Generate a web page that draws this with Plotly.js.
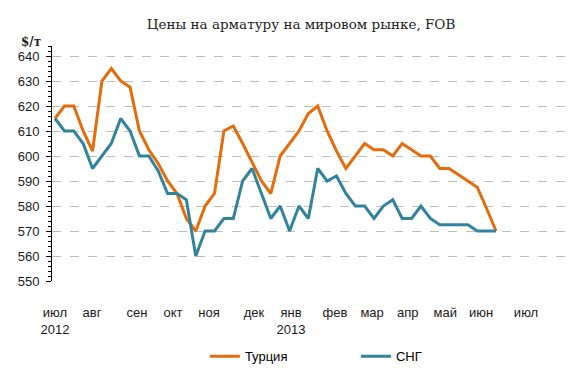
<!DOCTYPE html>
<html>
<head>
<meta charset="utf-8">
<script src="https://cdn.plot.ly/plotly-3.0.1.min.js"></script>
<style>html,body{margin:0;padding:0;background:#fff;}</style>
</head>
<body>
<div id="chart" style="width:579px;height:378px;"></div>
<script>
// Weekly FOB rebar prices, $/t (Jul 2012 – Jun 2013)
const turkey = [615, 620, 620, 610, 602, 630, 635, 630, 627.5, 610,
  602.5, 597, 590, 585, 575, 570, 580, 585, 610, 612,
  605, 597.5, 590, 585, 600, 605, 610, 617, 620, 610,
  602, 595, 600, 605, 602.5, 602.5, 600, 605, 602.5, 600,
  600, 595, 595, 592.5, 590, 587.5, 579, 570];
const cis = [615, 610, 610, 605, 595, 600, 605, 615, 610, 600,
  600, 594, 585, 585, 582.5, 560, 570, 570, 575, 575,
  590, 595, 585, 575, 580, 570, 580, 575, 595, 590,
  592, 585, 580, 580, 575, 580, 582.5, 575, 575, 580,
  575, 572.5, 572.5, 572.5, 572.5, 570, 570, 570];
const monthLabels = ['июл<br>2012', 'авг', 'сен', 'окт', 'ноя', 'дек', 'янв<br>2013',
  'фев', 'мар', 'апр', 'май', 'июн', 'июл'];
const seriesNames = ['Турция', 'СНГ'];
const titleText = 'Цены на арматуру на мировом рынке, FOB';
const unitText = '$/т';

const monthTickPos = [0, 3.94, 8.74, 12.58, 16.41, 21.21, 25.15, 29.84, 33.8, 37.6, 41.6, 45.4, 50.2];

const data = [
  {y: turkey, name: seriesNames[0], type: 'scatter', mode: 'lines',
   line: {color: '#E46C0A', width: 3}},
  {y: cis, name: seriesNames[1], type: 'scatter', mode: 'lines',
   line: {color: '#31849B', width: 3}}
];

const tickFont = {family: 'Liberation Sans, Arial, sans-serif', size: 13, color: '#1a1a1a'};

const layout = {
  width: 579, height: 378,
  margin: {l: 52, r: 7, t: 46, b: 97, pad: 0, autoexpand: false},
  paper_bgcolor: '#fff', plot_bgcolor: '#fff',
  showlegend: true,
  title: {text: titleText, x: 0.52, xanchor: 'center', y: 0.936, yanchor: 'middle',
          font: {family: 'DejaVu Serif, serif', size: 13.5, color: '#222'}},
  xaxis: {range: [-0.32, 55.1], showgrid: false, zeroline: false, showline: false,
          ticks: '', tickmode: 'array', tickvals: monthTickPos, ticktext: monthLabels,
          tickfont: tickFont, ticklabelstandoff: 22, fixedrange: true, automargin: false},
  yaxis: {range: [550, 644], showgrid: true, gridcolor: '#bdbdbd', griddash: 'dash', gridwidth: 1,
          zeroline: false, showline: true, linecolor: '#000', linewidth: 1,
          ticks: 'outside', ticklen: 5, tickcolor: '#000', tick0: 550, dtick: 10,
          minor: {dtick: 2, ticks: 'outside', ticklen: 3, tickcolor: '#000', showgrid: false},
          tickfont: tickFont, ticklabelstandoff: 4, fixedrange: true, automargin: false},
  legend: {orientation: 'h', x: 0.294, xanchor: 'left', y: -0.32, yanchor: 'middle',
           font: {family: 'Liberation Sans, Arial, sans-serif', size: 13, color: '#000'},
           entrywidth: 106, entrywidthmode: 'pixels', bgcolor: 'rgba(0,0,0,0)'},
  annotations: [
    {text: '<b>' + unitText + '</b>', xref: 'paper', yref: 'paper', x: -0.04, y: 1.017,
     xanchor: 'center', yanchor: 'middle', showarrow: false,
     font: {family: 'DejaVu Serif, serif', size: 12, color: '#222'}}
  ]
};

Plotly.newPlot('chart', data, layout, {displayModeBar: false, staticPlot: true});
</script>
</body>
</html>
